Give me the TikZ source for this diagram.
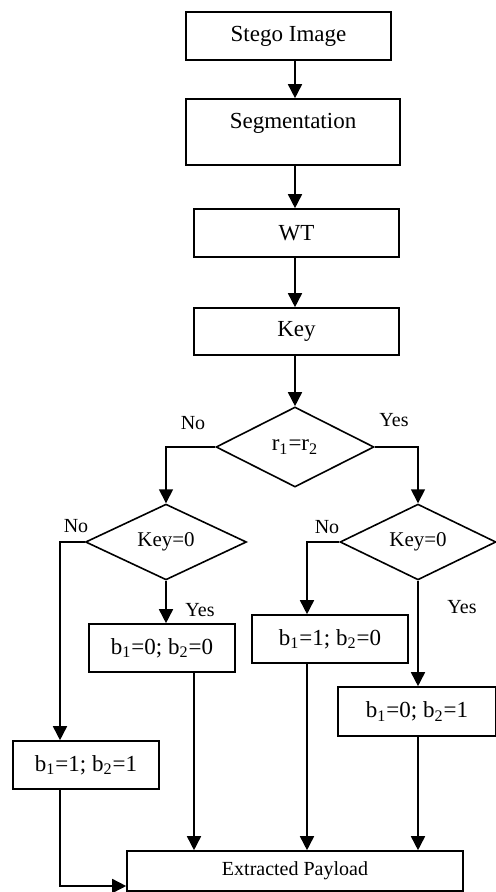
\documentclass[tikz,border=0pt]{standalone}
\usepackage{fontspec}
\setmainfont{Liberation Serif}
\usetikzlibrary{shapes.geometric}
\usetikzlibrary{arrows.meta}
\tikzset{%
  blk/.style={draw, line width=0.8pt, inner sep=0pt, font=\fontsize{11.5}{13}\selectfont}}
\tikzset{%
  dec/.style={draw, diamond, line width=0.8pt, inner sep=0pt, font=\fontsize{10.5}{12}\selectfont}}
\tikzset{%
  lbl/.style={inner sep=0pt, font=\fontsize{10}{12}\selectfont}}
\tikzset{%
  arr/.style={line width=0.8pt, -{Triangle[length=7pt,width=7pt]}}}

\begin{document}
\begin{tikzpicture}[x=0.5pt,y=-0.5pt]
\useasboundingbox (0,0) rectangle (496,892);
\node[blk, minimum width=102.5pt, minimum height=24pt] (stego) at (288.5,36) {Stego Image};
\node[blk, minimum width=107pt, minimum height=33pt, text depth=11.5pt] (seg) at (293,132) {Segmentation};
\node[blk, minimum width=102.5pt, minimum height=24pt] (wt) at (296.5,233) {WT};
\node[blk, minimum width=102.5pt, minimum height=23.5pt] (key) at (296.5,331.5) {Key};
\node[dec, minimum width=79pt, minimum height=40pt, font=\fontsize{11.5}{13}\selectfont] (rr) at (295,447) {r\textsubscript{1}=r\textsubscript{2}};
\node[dec, minimum width=80.5pt, minimum height=35pt] (kl) at (166,542) {Key=0};
\node[dec, minimum width=78pt, minimum height=35pt] (kr) at (418,542) {Key=0};
\node[blk, minimum width=73pt, minimum height=24pt] (bzz) at (162,648) {b\textsubscript{1}=0; b\textsubscript{2}=0};
\node[blk, minimum width=78pt, minimum height=24pt] (boz) at (330,639) {b\textsubscript{1}=1; b\textsubscript{2}=0};
\node[blk, minimum width=79pt, minimum height=24.5pt] (bzo) at (417,711.5) {b\textsubscript{1}=0; b\textsubscript{2}=1};
\node[blk, minimum width=73pt, minimum height=24pt] (boo) at (86,765) {b\textsubscript{1}=1; b\textsubscript{2}=1};
\node[blk, minimum width=168pt, minimum height=20pt, font=\fontsize{10}{12}\selectfont] (out) at (295,871) {Extracted Payload};
% yes / no labels
\node[lbl] (no1) at (193,423) {No};
\node[lbl] (yes1) at (394,420) {Yes};
\node[lbl] (no2) at (76,526) {No};
\node[lbl] (yes2) at (200,610) {Yes};
\node[lbl] (no3) at (327,527) {No};
\node[lbl] (yes3) at (462,607) {Yes};
% main column
\draw[arr] (stego.south -| rr) -- (seg.north -| rr);
\draw[arr] (seg.south -| rr) -- (wt.north -| rr);
\draw[arr] (wt.south -| rr) -- (key.north -| rr);
\draw[arr] (key.south -| rr) -- (rr.north);
% branches
\draw[arr] (rr.west) -| (kl.north);
\draw[arr] (rr.east) -| (kr.north);
\draw[arr] (kl.south) -- (kl.south |- bzz.north);
\draw[arr] (kl.west) -| ([xshift=-13pt]boo.north);
\draw[arr] (kr.west) -| ([xshift=-11.5pt]boz.north);
\draw[arr] (kr.south) -- (kr.south |- bzo.north);
% into the payload
\draw[arr] ([xshift=16pt]bzz.south) -- ([xshift=16pt]bzz.south |- out.north);
\draw[arr] ([xshift=-11.5pt]boz.south) -- ([xshift=-11.5pt]boz.south |- out.north);
\draw[arr] (kr.south |- bzo.south) -- (kr.south |- out.north);
\draw[arr] ([xshift=-13pt]boo.south) |- ([yshift=-7.5pt]out.west);
\end{tikzpicture}
\end{document}
